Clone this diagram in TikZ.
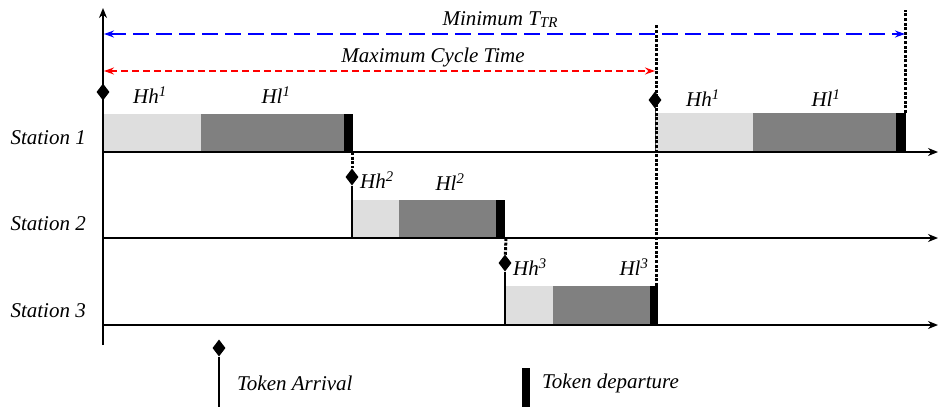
\documentclass[tikz,border=0pt]{standalone}
\usepackage{fontspec}
\setmainfont{Liberation Serif}
\usepackage{tikz}
\usetikzlibrary{
  arrows.meta,
  positioning,
  shapes.geometric,
}
\tikzstyle{axis} = [
  -{Stealth[length=10pt,width=8pt]},
  line width=1.3pt,
]
\tikzstyle{hprio} = [fill=black!13]
\tikzstyle{lprio} = [fill=black!50]
\tikzstyle{depart} = [fill=black]
\tikzstyle{arrival} = [
  diamond,
  fill=black,
  inner sep=0pt,
  minimum width=13pt,
  minimum height=17pt,
]
\tikzstyle{arrline} = [line width=1.4pt]
\tikzstyle{token} = [line width=3pt, dash pattern=on 3pt off 1.6pt]
\tikzstyle{span} = [
  {Stealth[length=10pt,width=7pt]}-{Stealth[length=10pt,width=7pt]},
]
\tikzstyle{lbl} = [font=\itshape\fontsize{21}{24}\selectfont, inner sep=0pt]

\begin{document}
\begin{tikzpicture}[x=1pt, y=-1pt]
        \useasboundingbox (0,0) rectangle (938,407);

        % station 1, first cycle
        \fill [hprio] (103,114) rectangle (201,152);
        \fill [lprio] (201,114) rectangle (344,152);
        \fill [depart] (344,114) rectangle (353,152);

        % station 2
        \fill [hprio] (353,200) rectangle (399,238);
        \fill [lprio] (399,200) rectangle (496,238);
        \fill [depart] (496,200) rectangle (505,238);

        % station 3
        \fill [hprio] (505,286) rectangle (553,325);
        \fill [lprio] (553,286) rectangle (650,325);
        \fill [depart] (650,286) rectangle (658,325);

        % station 1, second cycle
        \fill [hprio] (655,113) rectangle (753,152);
        \fill [lprio] (753,113) rectangle (896,152);
        \fill [depart] (896,113) rectangle (906,152);

        \coordinate (tbottom) at (103,345);
        \coordinate (ttop) at (103,8);
        \draw [axis] (tbottom) -- (ttop);

        \foreach \s/\y in {1/152, 2/238, 3/325} {
          \coordinate (s\s) at (103,\y);
          \coordinate (s\s end) at (938,\y);
          \draw [axis] (s\s) -- (s\s end);
          \node [lbl, anchor=east] (st\s) at (86,\y-14) {Station \s};
        }

        % token arrivals
        \node [arrival] (arr1) at (103,92) {};
        \node [arrival] (arr2) at (352,177) {};
        \node [arrival] (arr3) at (505,263) {};
        \node [arrival] (arr4) at (655,100) {};

        \coordinate (a2) at (352,238);
        \coordinate (a3) at (505,325);
        \coordinate (a4) at (655,152);
        \draw [arrline] (arr2) -- (a2);
        \draw [arrline] (arr3) -- (a3);
        \draw [line width=0.8pt, black!70] (arr4) -- (a4);

        % token passing
        \coordinate (d1) at (352,152);
        \coordinate (d2) at (506,238);
        \coordinate (d3) at (656,286);
        \coordinate (d3top) at (656,25);
        \coordinate (d4) at (905,113);
        \coordinate (d4top) at (905,10);
        \draw [token] (d1) -- (arr2);
        \draw [token] (d2) -- (arr3);
        \draw [token] (d3) -- (d3top);
        \draw [token] (d4) -- (d4top);

        % cycle times
        \coordinate (blue l) at (104,34);
        \coordinate (blue r) at (905,34);
        \draw [span, blue, line width=2.4pt, dash pattern=on 16pt off 7pt] (blue l) -- (blue r);
        \node [lbl] (ttr) at (500,20) {Minimum T{\fontsize{15}{17}\selectfont\raisebox{-2pt}{TR}}};

        \coordinate (red l) at (104,71);
        \coordinate (red r) at (655,71);
        \draw [span, red, line width=1.8pt, dash pattern=on 7pt off 4pt] (red l) -- (red r);
        \node [lbl] (tcyc) at (433,57) {Maximum Cycle Time};

        % priorities
        \node [lbl] (hh1) at (150,95) {Hh\textsuperscript{1}};
        \node [lbl] (hl1) at (276,95) {Hl\textsuperscript{1}};
        \node [lbl] (hh2) at (377,180) {Hh\textsuperscript{2}};
        \node [lbl] (hl2) at (450,182) {Hl\textsuperscript{2}};
        \node [lbl] (hh3) at (530,267) {Hh\textsuperscript{3}};
        \node [lbl] (hl3) at (634,267) {Hl\textsuperscript{3}};
        \node [lbl] (hh4) at (703,98) {Hh\textsuperscript{1}};
        \node [lbl] (hl4) at (826,98) {Hl\textsuperscript{1}};

        % legend
        \node [arrival] (legarr) at (219,348) {};
        \coordinate (legend) at (219,407);
        \draw [arrline] (legarr) -- (legend);
        \node [lbl, anchor=west] (legarrtxt) at (237,383) {Token Arrival};
        \fill [depart] (522,368) rectangle (530,407);
        \node [lbl, anchor=west] (legdeptxt) at (542,383) {Token departure};
      \end{tikzpicture}
\end{document}
